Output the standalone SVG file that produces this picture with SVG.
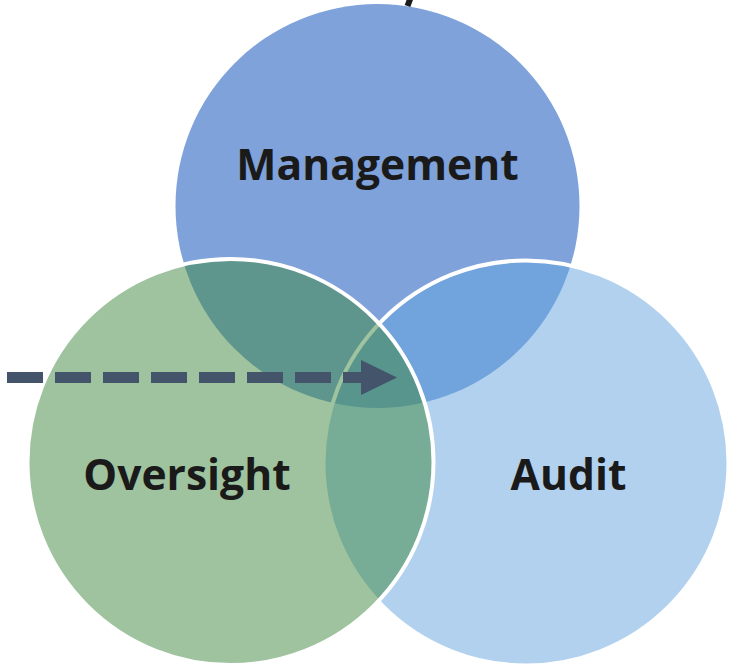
<svg xmlns="http://www.w3.org/2000/svg" width="735" height="664" viewBox="0 0 735 664">
  <style>
    .lbl { font-family: "Open Sans", "Liberation Sans", sans-serif; font-weight: 700; font-size: 42.6px; fill: #1a1a1a; text-anchor: middle; }
    .ring { stroke: #ffffff; stroke-width: 4; }
  </style>
  <defs>
    <marker id="head" viewBox="0 0 36 35" refX="0" refY="17.5" markerWidth="36" markerHeight="35" markerUnits="userSpaceOnUse" orient="auto">
      <path d="M0,0 L36,17.5 L0,35 Z" fill="#44546A"/>
    </marker>
  </defs>
  <rect width="735" height="664" fill="#ffffff"/>
  <g id="management">
    <circle cx="377.5" cy="206" r="202" fill="#7FA2DB"/>
  </g>
  <g id="audit">
    <circle class="ring" cx="526" cy="463" r="202.5" fill="rgb(100,163,224)" fill-opacity="0.5"/>
  </g>
  <g id="oversight">
    <circle class="ring" cx="230.5" cy="462" r="203" fill="rgb(62,135,62)" fill-opacity="0.5"/>
  </g>
  <g id="labels">
    <text class="lbl" x="377.5" y="180">Management</text>
    <text class="lbl" x="187" y="490">Oversight</text>
    <text class="lbl" x="568.5" y="490">Audit</text>
  </g>
  <g id="connectors">
    <line x1="7" y1="377.5" x2="361" y2="377.5" stroke="#44546A" stroke-width="11" stroke-dasharray="36 12" marker-end="url(#head)"/>
    <line x1="410.5" y1="-2" x2="407.5" y2="6" stroke="#1a1a1a" stroke-width="6"/>
  </g>
</svg>
